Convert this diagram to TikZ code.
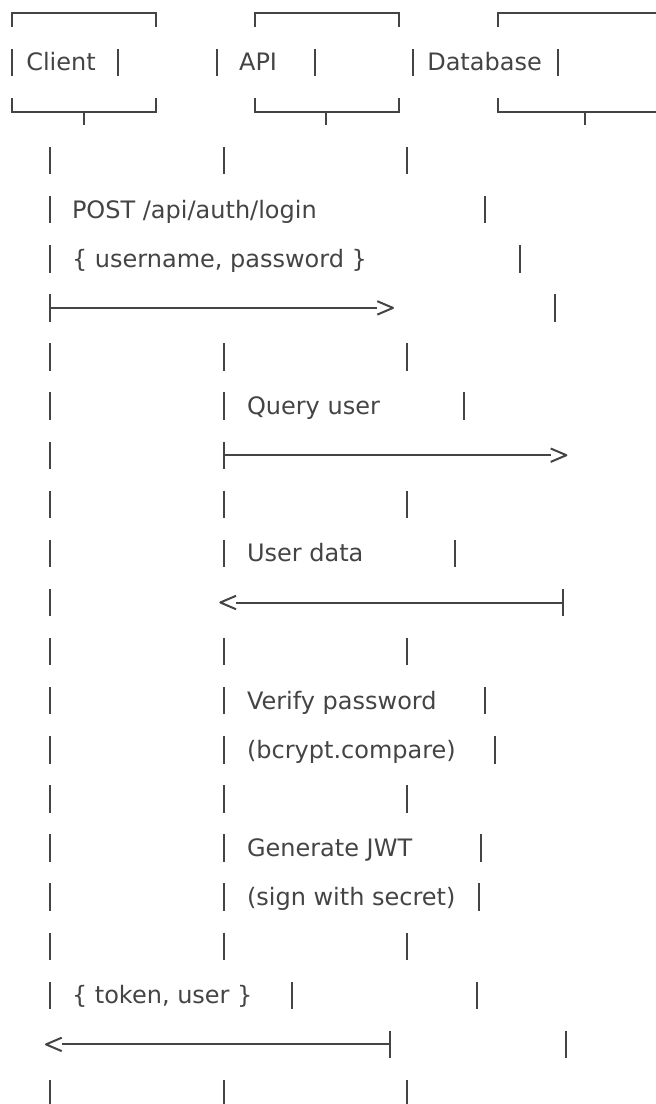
\documentclass[tikz,border=0pt]{standalone}
\usepackage{fontspec}
\newfontfamily\dejavu{DejaVu Sans}
\definecolor{ink}{RGB}{68,68,68}
\pgfmathdeclarefunction{ry}{1}{\pgfmathparse{13.3+49.1*#1}}
\newcommand\lifebar[2]{\draw[ln] (#1,{ry(#2)-13.7}) -- (#1,{ry(#2)+13.7});}
\begin{document}
\begin{tikzpicture}[x=1pt,y=-1pt,
  ln/.style={draw=ink,line width=2pt},
  head/.style={draw=ink,line width=2pt,line join=round},
  lbl/.style={font=\dejavu\fontsize{24pt}{24pt}\selectfont,text=ink,anchor=base west,inner sep=0pt,outer sep=0pt}]
\useasboundingbox (0,0) rectangle (656,1104);
% ---------- participant boxes ----------
\draw[ln] (12,27) -- (12,13.3) -- (155.7,13.3) -- (155.7,27);
\draw[ln] (255,27) -- (255,13.3) -- (399.3,13.3) -- (399.3,27);
\draw[ln] (497.7,27) -- (497.7,13.3) -- (656,13.3);
\foreach \x in {12,118.3,217.3,315,413.3,558.3} {\lifebar{\x}{1}}
\node[lbl] (client) at (26.3,{ry(1)+8.5}) {Client};
\node[lbl] (api) at (239.1,{ry(1)+8.5}) {API};
\node[lbl] (db) at (427.3,{ry(1)+8.5}) {Database};
\draw[ln] (12,97.8) -- (12,111.5) -- (155.7,111.5) -- (155.7,97.8);
\draw[ln] (255,97.8) -- (255,111.5) -- (399.3,111.5) -- (399.3,97.8);
\draw[ln] (497.7,97.8) -- (497.7,111.5) -- (656,111.5);
\draw[ln] (84,111.5) -- (84,125.2);
\draw[ln] (326,111.5) -- (326,125.2);
\draw[ln] (584.7,111.5) -- (584.7,125.2);
% ---------- plain lifeline rows ----------
\foreach \r in {3,7,10,13,16,19,22} {
  \foreach \x in {50,224.3,407} {\lifebar{\x}{\r}}
}
% ---------- POST /api/auth/login ----------
\lifebar{50}{4}\lifebar{484.7}{4}
\node[lbl] (m1a) at (72,{ry(4)+8.5}) {POST /api/auth/login};
\lifebar{50}{5}\lifebar{520.3}{5}
\node[lbl] (m1b) at (72,{ry(5)+8.5}) {\{ username, password \}};
\lifebar{50}{6}\lifebar{555.3}{6}
\coordinate (a1s) at (50,{ry(6)});
\coordinate (a1e) at (377.3,{ry(6)});
\draw[ln] (a1s) -- (a1e);
\draw[head] (a1e) ++(0,-6.7) -- ++(15.7,6.7) -- ++(-15.7,6.7);
% ---------- Query user ----------
\lifebar{50}{8}\lifebar{224.3}{8}\lifebar{463.7}{8}
\node[lbl] (m2) at (247,{ry(8)+8.5}) {Query user};
\lifebar{50}{9}\lifebar{224.3}{9}
\coordinate (a2s) at (224.3,{ry(9)});
\coordinate (a2e) at (550.7,{ry(9)});
\draw[ln] (a2s) -- (a2e);
\draw[head] (a2e) ++(0,-6.7) -- ++(15.7,6.7) -- ++(-15.7,6.7);
% ---------- User data ----------
\lifebar{50}{11}\lifebar{224.3}{11}\lifebar{454.7}{11}
\node[lbl] (m3) at (247,{ry(11)+8.5}) {User data};
\lifebar{50}{12}\lifebar{562.7}{12}
\coordinate (a3s) at (562.7,{ry(12)});
\coordinate (a3e) at (236,{ry(12)});
\draw[ln] (a3s) -- (a3e);
\draw[head] (a3e) ++(0,-6.7) -- ++(-15.7,6.7) -- ++(15.7,6.7);
% ---------- Verify password ----------
\lifebar{50}{14}\lifebar{224.3}{14}\lifebar{484.7}{14}
\node[lbl] (m4a) at (247,{ry(14)+8.5}) {Verify password};
\lifebar{50}{15}\lifebar{224.3}{15}\lifebar{494.7}{15}
\node[lbl] (m4b) at (247,{ry(15)+8.5}) {(bcrypt.compare)};
% ---------- Generate JWT ----------
\lifebar{50}{17}\lifebar{224.3}{17}\lifebar{480.7}{17}
\node[lbl] (m5a) at (247,{ry(17)+8.5}) {Generate JWT};
\lifebar{50}{18}\lifebar{224.3}{18}\lifebar{479}{18}
\node[lbl] (m5b) at (247,{ry(18)+8.5}) {(sign with secret)};
% ---------- { token, user } ----------
\lifebar{50}{20}\lifebar{292.2}{20}\lifebar{477}{20}
\node[lbl] (m6) at (72,{ry(20)+8.5}) {\{ token, user \}};
\lifebar{389.5}{21}\lifebar{566.3}{21}
\coordinate (a4s) at (389.5,{ry(21)});
\coordinate (a4e) at (61.7,{ry(21)});
\draw[ln] (a4s) -- (a4e);
\draw[head] (a4e) ++(0,-6.7) -- ++(-15.7,6.7) -- ++(15.7,6.7);
\end{tikzpicture}
\end{document}
